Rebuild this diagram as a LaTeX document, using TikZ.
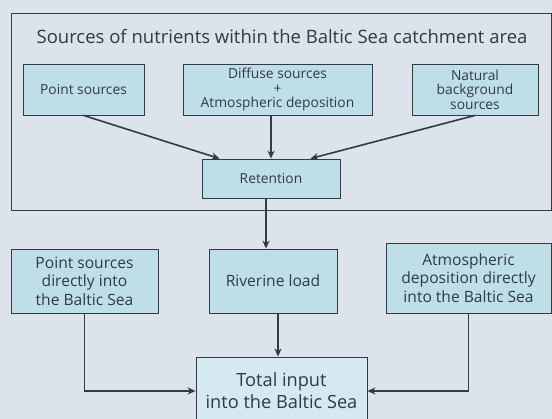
\documentclass[tikz,border=0pt]{standalone}
\usepackage{fontspec}
\setmainfont{Open Sans}
\usetikzlibrary{arrows.meta}

\definecolor{bgpanel}{HTML}{DCE3EA}
\definecolor{boxfill}{HTML}{BFDFE8}
\definecolor{totfill}{HTML}{D5E9F3}
\definecolor{edgecol}{HTML}{353A40}
\definecolor{txtcol}{HTML}{2F3A44}

\tikzset{
  srcbox/.style={draw=edgecol, line width=0.8pt, fill=boxfill, text=txtcol,
    align=center, inner sep=0pt, font=\fontsize{13.8}{14.5}\selectfont},
  seabox/.style={srcbox, font=\fontsize{15.6}{18.5}\selectfont},
  flow/.style={draw=edgecol, line width=1.6pt, -{Stealth[length=8pt,width=7pt]}},
}

\begin{document}
\begin{tikzpicture}[x=1pt, y=-1pt]
	\useasboundingbox (0,0) rectangle (552,419);
	\fill[bgpanel] (0,0) rectangle (552,419);
	% catchment area
	\draw[edgecol, line width=0.8pt] (11,13) rectangle (551,210);
	\node[text=txtcol, font=\fontsize{18.5}{20}\selectfont] (title) at (282,37) {Sources of nutrients within the Baltic Sea catchment area};
	\node[srcbox, minimum width=121, minimum height=51] (pts) at (83.5,89.5) {Point sources};
	\node[srcbox, minimum width=189, minimum height=51] (diff) at (277.5,89.5) {Diffuse sources\\+\\Atmospheric deposition};
	\node[srcbox, minimum width=126, minimum height=51] (nat) at (475,89.5) {Natural\\background\\sources};
	\node[srcbox, minimum width=138, minimum height=39] (ret) at (271,178.5) {Retention};
	\draw[flow] (pts.south) -- ([xshift=18pt]ret.north west);
	\draw[flow] (diff.south -| ret.north) -- (ret.north);
	\draw[flow] (nat.south) -- ([xshift=-30pt]ret.north east);
	% into the sea
	\node[seabox, minimum width=147, minimum height=64] (pdir) at (84.5,281) {Point sources\\directly into\\the Baltic Sea};
	\node[seabox, minimum width=128, minimum height=64] (riv) at (273,281) {Riverine load};
	\node[seabox, minimum width=165, minimum height=70] (atm) at (468.5,278) {Atmospheric\\deposition directly\\into the Baltic Sea};
	\node[seabox, fill=totfill, font=\fontsize{18.2}{22}\selectfont, minimum width=171, minimum height=68] (tot) at (281.5,391) {Total input\\into the Baltic Sea};
	\draw[flow] ([xshift=-5pt]ret.south) -- ([xshift=-5pt]ret.south |- riv.north);
	\draw[flow, line width=1.4pt] ([xshift=5pt]riv.south) -- ([xshift=5pt]riv.south |- tot.north);
	\draw[flow, line width=1.4pt] (pdir.south) |- (tot.west);
	\draw[flow, line width=1.4pt] (atm.south) |- (tot.east);
\end{tikzpicture}
\end{document}
